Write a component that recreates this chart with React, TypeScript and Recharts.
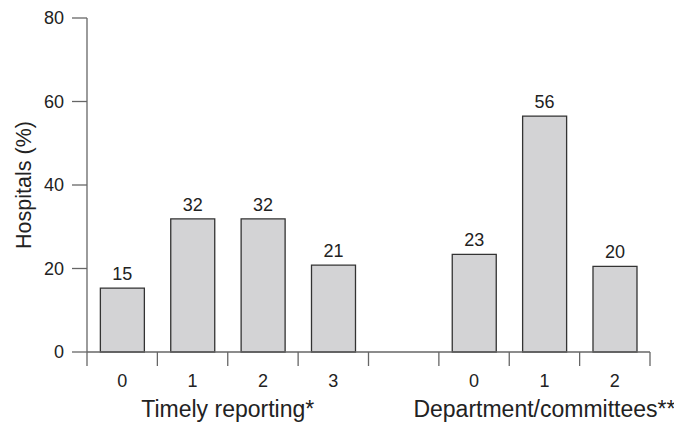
import { BarChart, Bar, XAxis, YAxis, LabelList } from "recharts";

// One slot per bar, plus an empty slot that separates the two groups.
const slotKeys = ["t0", "t1", "t2", "t3", "gap", "d0", "d1", "d2"];
const tickLabels = ["0", "1", "2", "3", "", "0", "1", "2"];
const hospitalPct = [15.3, 31.9, 31.9, 20.8, null, 23.4, 56.5, 20.5];
const valueLabels = ["15", "32", "32", "21", "", "23", "56", "20"];

const groupNames = ["Timely reporting*", "Department/committees**"];
const groupFirst = [0, 5];
const groupLast = [3, 7];

const yTicks = [0, 20, 40, 60, 80];

const FONT = '"Liberation Sans", Arial, Helvetica, sans-serif';
const AXIS = "#666";
const INK = "#222";

const data = slotKeys.map((k, i) => ({
  slot: k,
  pct: hospitalPct[i],
  label: valueLabels[i],
}));

// Bottom axis tick: tick marks sit on category boundaries, not centres,
// and the group titles are hung off the first tick of each group.
function SlotTick(props: any) {
  const { x, y, payload, index } = props;
  const half = payload.offset ?? 0;
  const g = groupFirst.indexOf(index);
  const groupCenter = g >= 0 ? x + (groupLast[g] - groupFirst[g]) * half : 0;
  return (
    <g>
      <line x1={x - half} x2={x - half} y1={y} y2={y + 14} stroke={AXIS} strokeWidth={1.3} />
      {index === slotKeys.length - 1 && (
        <line x1={x + half} x2={x + half} y1={y} y2={y + 14} stroke={AXIS} strokeWidth={1.3} />
      )}
      <text x={x} y={y + 35} textAnchor="middle" fill={INK} fontSize={18} fontFamily={FONT}>
        {tickLabels[index]}
      </text>
      {g >= 0 && (
        <text x={groupCenter} y={y + 65} textAnchor="middle" fill={INK} fontSize={23} fontFamily={FONT}>
          {groupNames[g]}
        </text>
      )}
    </g>
  );
}

export default function App() {
  return (
    <div style={{ position: "absolute", left: 0, top: 0, background: "#fff" }}>
      <BarChart
        width={674}
        height={423}
        data={data}
        margin={{ top: 18, right: 24, left: 0, bottom: 0 }}
        barCategoryGap="19%"
      >
        <XAxis
          dataKey="slot"
          height={71}
          tickLine={false}
          tickSize={0}
          tickMargin={0}
          interval={0}
          axisLine={{ stroke: AXIS, strokeWidth: 1.3 }}
          tick={<SlotTick />}
        />
        <YAxis
          width={87}
          domain={[0, 80]}
          ticks={yTicks}
          tickSize={15}
          tickMargin={8}
          axisLine={{ stroke: AXIS, strokeWidth: 1.3 }}
          tickLine={{ stroke: AXIS, strokeWidth: 1.3 }}
          tick={{ fill: INK, fontSize: 18, fontFamily: FONT }}
          label={{
            value: "Hospitals (%)",
            angle: -90,
            position: "center",
            dx: -20,
            fill: INK,
            fontSize: 21.5,
            fontFamily: FONT,
          }}
        />
        <Bar dataKey="pct" fill="#d3d3d5" stroke="#333" strokeWidth={1.3} isAnimationActive={false}>
          <LabelList dataKey="label" position="top" offset={8} fill={INK} fontSize={18} fontFamily={FONT} />
        </Bar>
      </BarChart>
    </div>
  );
}
